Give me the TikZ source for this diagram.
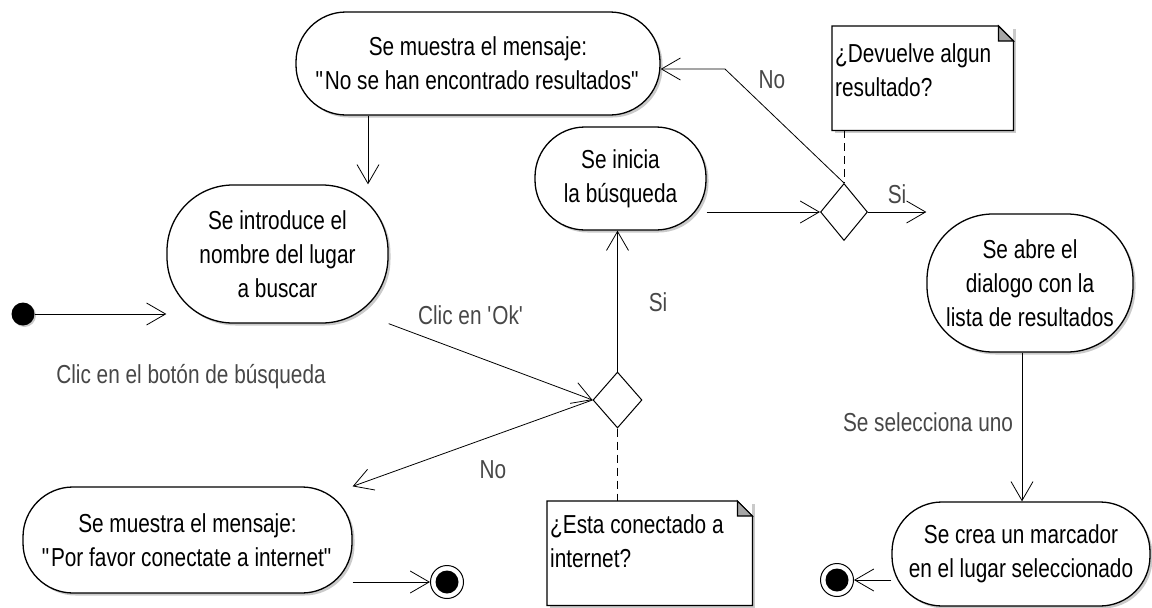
\documentclass[tikz,border=0pt]{standalone}
\usepackage{fontspec}
\setmainfont{Liberation Sans}[FakeStretch=0.8]
\usetikzlibrary{arrows.meta,shapes.geometric,shadows}
\begin{document}
\begin{tikzpicture}[x=1pt,y=-1pt,
  every node/.style={font=\fontsize{26}{34}\selectfont},
  act/.style={draw=black, line width=1.3pt, fill=white, rounded corners=50pt,
    inner sep=0pt, align=center,
    drop shadow={shadow xshift=2.5pt, shadow yshift=-2.5pt, fill=black!35, opacity=0.6}},
  dec/.style={diamond, draw=black, line width=1pt, fill=white, inner sep=0pt},
  notebox/.style={draw=none, fill=white, inner sep=3pt, anchor=north west,
    drop shadow={shadow xshift=2.5pt, shadow yshift=-2.5pt, fill=black!35, opacity=0.6}},
  noteline/.style={draw=black, line width=1.2pt, line join=miter},
  lbl/.style={text=black!72, inner sep=0pt},
  arr/.style={line width=0.8pt, -{Straight Barb[length=19pt,width=22pt,line width=0.8pt]}},
  dsh/.style={line width=0.8pt, dash pattern=on 8pt off 5pt},
  startnode/.style={circle, fill=black, minimum size=23pt, inner sep=0pt,
    drop shadow={shadow xshift=1.5pt, shadow yshift=-1.5pt, fill=black!35, opacity=0.6}},
  endnode/.style={circle, draw=black, line width=1pt, fill=white, minimum size=33pt, inner sep=0pt}
]
\useasboundingbox (0,0) rectangle (1152,608);

% activity boxes
\node[act, minimum width=364pt, minimum height=103pt] (b1) at (478,63.5)
  {Se muestra el mensaje:\\\textquotedbl No se han encontrado resultados\textquotedbl};
\node[act, rounded corners=66pt, minimum width=221pt, minimum height=138pt] (b2) at (277.5,254)
  {Se introduce el\\nombre del lugar\\a buscar};
\node[act, minimum width=171pt, minimum height=103pt] (b3) at (620.5,178.5)
  {Se inicia\\la búsqueda};
\node[act, rounded corners=66pt, minimum width=206pt, minimum height=138pt] (b4) at (1030,283)
  {Se abre el\\dialogo con la\\lista de resultados};
\node[act, minimum width=329pt, minimum height=106pt] (b5) at (187.5,540)
  {Se muestra el mensaje:\\\textquotedbl Por favor conectate a internet\textquotedbl};
\node[act, minimum width=258pt, minimum height=104pt] (b6) at (1021,554)
  {Se crea un marcador\\en el lugar seleccionado};

% decisions
\node[dec, minimum width=47pt, minimum height=57pt] (d1) at (844,212) {};
\node[dec, minimum width=49pt, minimum height=56pt] (d2) at (617.5,400) {};

% start / end
\node[startnode] (init) at (23,314) {};
\node[endnode] (fin1) at (447,582) {};
\fill (fin1.center) circle[radius=11.5pt];
\node[endnode] (fin2) at (837,580) {};
\fill (fin2.center) circle[radius=11.5pt];

% notes
\node[notebox, minimum width=181pt, text height=33pt, text depth=65pt] (n1) at (832,26)
  {\parbox[t]{175pt}{\raggedright ¿Devuelve algun\\resultado?}};
\draw[noteline] (n1.north west) -- ([xshift=-15pt]n1.north east) -- ([yshift=-15pt]n1.north east)
  -- (n1.south east) -- (n1.south west) -- cycle;
\filldraw[noteline, fill=black!35] ([xshift=-15pt]n1.north east) -- ([xshift=-15pt,yshift=-15pt]n1.north east)
  -- ([yshift=-15pt]n1.north east) -- cycle;

\node[notebox, minimum width=205pt, text height=29pt, text depth=69pt] (n2) at (547,501)
  {\parbox[t]{199pt}{\raggedright ¿Esta conectado a\\internet?}};
\draw[noteline] (n2.north west) -- ([xshift=-15pt]n2.north east) -- ([yshift=-15pt]n2.north east)
  -- (n2.south east) -- (n2.south west) -- cycle;
\filldraw[noteline, fill=black!35] ([xshift=-15pt]n2.north east) -- ([xshift=-15pt,yshift=-15pt]n2.north east)
  -- ([yshift=-15pt]n2.north east) -- cycle;

% helper coordinates
\coordinate (c12) at (368,0);
\coordinate (c46) at (1022,0);
\coordinate (kNo) at (725,69);

% connectors
\draw[arr] (init) -- (init -| b2.west);
\draw[arr] (b1.south -| c12) -- (b2.north -| c12);
\draw[arr] (b2.south east) -- (d2.west);
\draw[arr] (d2.north) -- (b3.south -| d2.north);
\draw[arr] (d2.west) -- (b5.north east);
\draw[arr] (b3.east |- d1.west) -- (d1.west);
\draw[arr] (d1.north) -- (kNo) -- (kNo -| b1.east);
\draw[arr] (d1.east) -- (d1.east -| b4.north west);
\draw[arr] (b4.south -| c46) -- (b6.north -| c46);
\draw[arr] (b5.east |- fin1.west) -- (fin1.west);
\draw[arr] (b6.west |- fin2.east) -- (fin2.east);
\draw[dsh] (n1.south -| d1.north) -- (d1.north);
\draw[dsh] (d2.south) -- (d2.south |- n2.north);

% labels
\node[lbl] (l1) at (191,377) {Clic en el botón de búsqueda};
\node[lbl] (l2) at (471,315) {Clic en \textquotesingle Ok\textquotesingle};
\node[lbl] (l3) at (658,302) {Si};
\node[lbl] (l4) at (493,470) {No};
\node[lbl] (l5) at (772,80) {No};
\node[lbl] (l6) at (897,194) {Si};
\node[lbl] (l7) at (928,422) {Se selecciona uno};
\end{tikzpicture}
\end{document}
